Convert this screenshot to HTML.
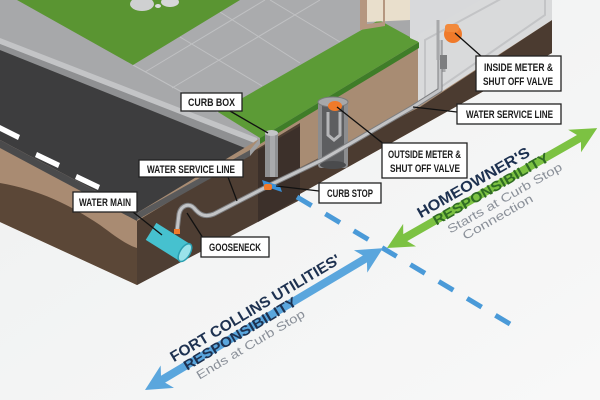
<!DOCTYPE html>
<html><head><meta charset="utf-8"><style>
html,body{margin:0;padding:0;background:#f2f3f3;}
svg{display:block;}
.lb{font-family:"Liberation Sans Narrow","Liberation Sans",sans-serif;font-weight:bold;font-size:11px;fill:#1b1b1b;}
.ar{font-family:"Liberation Sans",sans-serif;font-weight:bold;}
</style></head><body>
<svg width="600" height="400" viewBox="0 0 600 400" xmlns="http://www.w3.org/2000/svg">
<defs>
<linearGradient id="bg" x1="0" y1="0" x2="1" y2="1"><stop offset="0" stop-color="#eef0f0"/><stop offset="1" stop-color="#f8f8f8"/></linearGradient>
</defs>
<rect width="600" height="400" fill="url(#bg)"/>

<!-- top surface gray band -->
<polygon points="0,0 552,0 419,42 137,213 0,140" fill="#a7a8aa"/>
<!-- sidewalk tiles -->
<polygon points="133,65 240,0 383,0 379,20 218,112" fill="#aaabad"/>
<g stroke="#c0c1c3" stroke-width="1">
<line x1="133" y1="65" x2="218" y2="112"/>
<line x1="180" y1="37" x2="262" y2="86"/>
<line x1="220" y1="12" x2="300" y2="63"/>
<line x1="270" y1="0" x2="340" y2="42"/>
<line x1="172" y1="88" x2="320" y2="0"/>
<line x1="145" y1="72" x2="265" y2="0"/>
</g>
<!-- lawn -->
<polygon points="17,0 240,0 133,65" fill="#5a9532"/>
<!-- rocks -->
<ellipse cx="142" cy="4" rx="12" ry="7" fill="#cfd0d1"/><ellipse cx="170" cy="2" rx="9" ry="5" fill="#d6d7d8"/><ellipse cx="158" cy="6" rx="3" ry="2" fill="#dcdddd"/>
<!-- curb / gutter -->
<polygon points="0,38 257,138 257,144 0,44" fill="#c3c4c6"/>
<polygon points="0,44 257,144 250,150 0,50" fill="#8f9092"/>
<!-- road -->
<polygon points="0,50 250,150 137,213 0,140" fill="#3d3d3e"/>
<g fill="#ffffff">
<polygon points="0,125 20,135 18,140 0,131"/>
<polygon points="37,152 60,163 58,168 35,157"/>
<polygon points="77,174 100,185 98,190 75,179"/>
</g>
<!-- grass strip -->
<polygon points="218,112 379,20 419,42 260,138" fill="#5c9b36"/>
<!-- house -->
<polygon points="367,0 410,0 410,20 367,22" fill="#e9dfcc"/>
<polygon points="360,0 367,0 367,24 383,22 383,0 385,0 385,26 360,30" fill="#b59780"/>
<polygon points="410,0 552,0 552,30 419,42 410,38" fill="#d8d9db"/>

<!-- left face -->
<polygon points="0,140 137,213 137,285 0,222" fill="#a98b72"/>
<path d="M0,183 C40,190 70,205 100,225 C115,236 125,244 137,248 L137,285 L0,222 Z" fill="#5b4737"/>
<polygon points="0,140 137,213 137,221 0,148" fill="#4a4a4b"/>

<!-- right face -->
<polygon points="137,213 419,42 552,-38 552,53 137,285" fill="#a88c73"/>
<polygon points="137,250 420,107 552,20 552,53 137,285" fill="#4b3b30"/>
<polygon points="137,221 262,146 300,123 300,200 137,285" fill="#4e3e33"/>
<polygon points="258,150 300,126 300,198 258,222" fill="#3c302a"/>
<!-- basement -->
<polygon points="418,35 552,-40 552,20 418,107" fill="#d9dadb"/>
<polygon points="425,40 545,-25 545,15 425,98" fill="none" stroke="#c3c4c6" stroke-width="2"/>
<!-- thickness bands -->
<polygon points="137,213 250,150 250,156 137,220" fill="#5a5a5b"/>
<polygon points="260,138 419,42 419,48 260,144" fill="#3f7d28"/>
<polygon points="250,150 260,138 260,144 250,156" fill="#9fa0a2"/>

<!-- outside meter pit -->
<rect x="318" y="102" width="30" height="66" fill="#8c8d8f" rx="3"/>
<rect x="322" y="106" width="22" height="58" fill="#5d5e60"/>
<ellipse cx="333" cy="102" rx="15" ry="5" fill="#a7a8aa" stroke="#7a7b7d"/>
<path d="M328,112 L328,135 L334,140 L340,135 L340,112" fill="none" stroke="#b5b6b8" stroke-width="3"/>
<ellipse cx="333" cy="165" rx="13" ry="4" fill="#4a4b4d"/>
<ellipse cx="335" cy="106" rx="7" ry="5" fill="#f07a2a"/>

<!-- water service line -->
<path d="M177,231 L179,214 C181,205 189,203 194,208 C199,214 204,218 214,214 L270,185 L322,160 L413,107 L440,90 L440,40" fill="none" stroke="#7d7e80" stroke-width="5" stroke-linejoin="round"/>
<path d="M177,231 L179,214 C181,205 189,203 194,208 C199,214 204,218 214,214 L270,185 L322,160 L413,107 L440,90 L440,40" fill="none" stroke="#c3c4c6" stroke-width="3" stroke-linejoin="round"/>
<!-- inside meter -->
<path d="M438,20 L438,60 M444,60 L444,72" stroke="#a7a8aa" stroke-width="3" fill="none"/>
<rect x="440" y="55" width="7" height="14" fill="#7d7e80"/>
<ellipse cx="453" cy="34" rx="9" ry="9" fill="#f07a2a"/>
<rect x="445" y="24" width="14" height="8" fill="#f28a3c" rx="3"/>

<!-- curb box -->
<rect x="265" y="133" width="13" height="44" fill="#909193"/>
<rect x="270" y="133" width="5" height="44" fill="#a9aaac"/>
<ellipse cx="271.5" cy="133" rx="6.5" ry="3" fill="#c4c5c7"/>
<!-- curb stop -->
<polygon points="262,180 280,186 282,192 264,186" fill="#3a8fd6"/>
<rect x="264" y="184" width="8" height="6" fill="#f07a2a" rx="2"/>

<!-- water main -->
<g transform="rotate(32 168 242)">
<rect x="148" y="232" width="40" height="20" fill="#46c1cf"/>
<ellipse cx="188" cy="242" rx="5" ry="10" fill="#9ae3ea" stroke="#2a9fb0" stroke-width="1.5"/>
</g>
<rect x="174" y="229" width="6" height="5" fill="#f07a2a"/>

<!-- dashed boundary -->
<line x1="297" y1="197" x2="510" y2="324" stroke="#4a9ad8" stroke-width="5" stroke-dasharray="17,16"/>

<!-- leader lines -->
<g stroke="#111" stroke-width="1.3" fill="none">
<line x1="230" y1="111" x2="268" y2="133"/>
<line x1="482" y1="57" x2="455" y2="33"/>
<line x1="457" y1="112" x2="413" y2="107"/>
<line x1="385" y1="145" x2="337" y2="107"/>
<line x1="228" y1="177" x2="237" y2="201"/>
<line x1="319" y1="191" x2="276" y2="186"/>
<line x1="133" y1="212" x2="162" y2="235"/>
<line x1="203" y1="238" x2="187" y2="213"/>
</g>

<!-- labels -->
<g fill="#fff" stroke="#222" stroke-width="1.3">
<rect x="181" y="93" width="61" height="18"/>
<rect x="476" y="56" width="85" height="35"/>
<rect x="457" y="104" width="104" height="20"/>
<rect x="382" y="143" width="85" height="35"/>
<rect x="139" y="160" width="104" height="17"/>
<rect x="319" y="183" width="62" height="20"/>
<rect x="73" y="192" width="64" height="20"/>
<rect x="201" y="237" width="68" height="20"/>
</g>
<g class="lb">
<text x="188" y="106" textLength="47" lengthAdjust="spacingAndGlyphs">CURB BOX</text>
<text x="484" y="71" textLength="69" lengthAdjust="spacingAndGlyphs">INSIDE METER &amp;</text>
<text x="483" y="85" textLength="70" lengthAdjust="spacingAndGlyphs">SHUT OFF VALVE</text>
<text x="466" y="118" textLength="87" lengthAdjust="spacingAndGlyphs">WATER SERVICE LINE</text>
<text x="388" y="158" textLength="73" lengthAdjust="spacingAndGlyphs">OUTSIDE METER &amp;</text>
<text x="390" y="172" textLength="70" lengthAdjust="spacingAndGlyphs">SHUT OFF VALVE</text>
<text x="147" y="173" textLength="88" lengthAdjust="spacingAndGlyphs">WATER SERVICE LINE</text>
<text x="327" y="197" textLength="46" lengthAdjust="spacingAndGlyphs">CURB STOP</text>
<text x="79" y="206" textLength="52" lengthAdjust="spacingAndGlyphs">WATER MAIN</text>
<text x="209" y="251" textLength="52" lengthAdjust="spacingAndGlyphs">GOOSENECK</text>
</g>

<!-- blue arrow -->
<g transform="translate(145,390) rotate(-30.8)">
<polygon points="0,0 26,-13 21,-4 256,-4 251,-13 277,0 251,13 256,4 21,4 26,13" fill="#5aa6dd"/>
<text class="ar" x="39" y="-9" font-size="15" fill="#1d3150" textLength="195" lengthAdjust="spacingAndGlyphs">FORT COLLINS UTILITIES'</text>
<text class="ar" x="46" y="5" font-size="14" fill="#1d3150" textLength="129" lengthAdjust="spacingAndGlyphs">RESPONSIBILITY</text>
<text x="52" y="19" font-family="Liberation Sans,sans-serif" font-size="12" fill="#8a9099" textLength="124" lengthAdjust="spacingAndGlyphs">Ends at Curb Stop</text>
</g>
<!-- green arrow -->
<g transform="translate(387,248) rotate(-29.7)">
<polygon points="0,0 26,-13 21,-4 221,-4 216,-13 242,0 216,13 221,4 21,4 26,13" fill="#7cc242"/>
<text class="ar" x="44" y="-9" font-size="15" fill="#1d3150" textLength="127" lengthAdjust="spacingAndGlyphs">HOMEOWNER'S</text>
<text class="ar" x="54" y="5" font-size="14" fill="#2f6b23" textLength="131" lengthAdjust="spacingAndGlyphs">RESPONSIBILITY</text>
<text x="62" y="19" font-family="Liberation Sans,sans-serif" font-size="12" fill="#8a9099" textLength="130" lengthAdjust="spacingAndGlyphs">Starts at Curb Stop</text>
<text x="72" y="32" font-family="Liberation Sans,sans-serif" font-size="12" fill="#8a9099" textLength="79" lengthAdjust="spacingAndGlyphs">Connection</text>
</g>
</svg>
</body></html>
